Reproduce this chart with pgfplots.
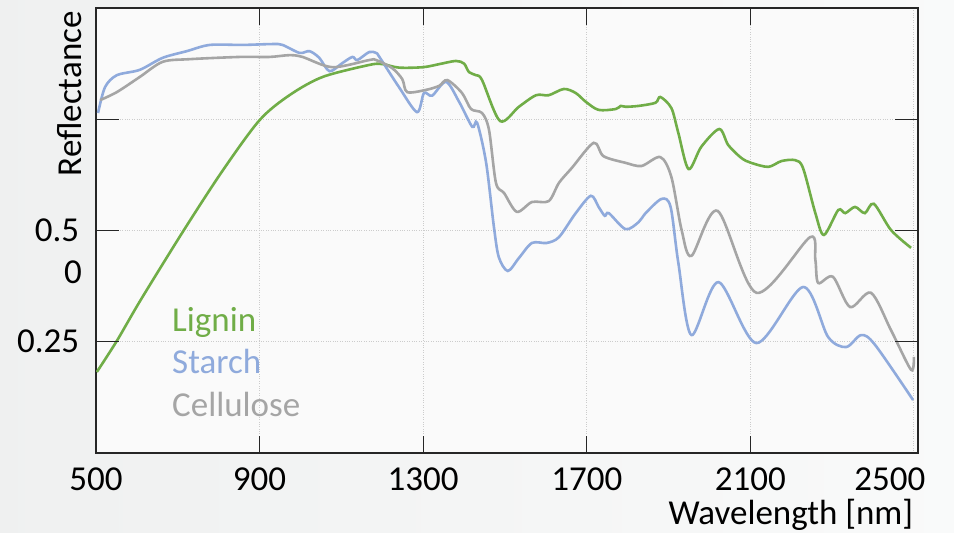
\documentclass[border=0pt]{standalone}
\usepackage{pgfplots}
\pgfplotsset{compat=1.18}
\usepackage{fontspec}
\setmainfont{Carlito}
\definecolor{lig}{HTML}{70AD47}
\definecolor{sta}{HTML}{8FAADC}
\definecolor{cel}{HTML}{A5A5A5}
\definecolor{bgc}{HTML}{F0F2F2}
\definecolor{plotbg}{HTML}{FAFAFA}
\begin{document}
\fontsize{35bp}{41bp}\selectfont
\begin{tikzpicture}
\fill[left color=bgc!90!gray!60, right color=bgc!40!white] (0,0) rectangle (954bp,533bp);
\useasboundingbox (0,0) rectangle (954bp,533bp);
\begin{axis}[
  at={(96bp,80bp)}, anchor=south west,
  scale only axis, width=822bp, height=445bp,
  xmin=500, xmax=2510, ymin=0, ymax=1,
  clip mode=individual,
  axis background/.style={fill=plotbg},
  axis line style={black!85, line width=1.3bp},
  xtick={500,900,1300,1700,2100,2500},
  xticklabels={500,900,1300,1700,2100,{2500\kern48bp}},
  ytick={0.25,0.5,0.75},
  yticklabels={0.25,0.5,{}},
  tick align=inside,
  major tick length=0bp,
  grid=major,
  major grid style={black!20, dotted, line width=1bp},
  /pgf/number format/assume math mode=true,
  xticklabel style={font=\fontsize{35bp}{41bp}\selectfont, yshift=-3bp},
  yticklabel style={font=\fontsize{35bp}{41bp}\selectfont, xshift=-5bp},
  xlabel={Wavelength [nm]},
  xlabel style={at={(axis description cs:1.0085,-0.160)}, anchor=base east, font=\fontsize{35bp}{41bp}\selectfont},
  ylabel={Reflectance},
  ylabel style={at={(axis description cs:-0.032,0.807)}, anchor=center, font=\fontsize{35bp}{41bp}\selectfont},
  every axis plot/.append style={line width=2.6bp, smooth, tension=0.5, no marks},
]
% Lignin
\addplot[lig] coordinates {
(502,0.182)(551,0.252)(610,0.345)(715,0.501)(810,0.635)(900,0.748)(973,0.804)(1054,0.845)(1168,0.872)
(1200,0.874)(1241,0.866)(1300,0.867)(1340,0.874)(1380,0.881)(1400,0.875)(1412,0.856)(1429,0.849)
(1444,0.838)(1488,0.746)(1534,0.778)(1576,0.804)(1607,0.804)(1644,0.818)(1673,0.809)(1698,0.789)
(1729,0.771)(1771,0.773)(1783,0.780)(1795,0.778)(1827,0.780)(1868,0.787)(1880,0.800)(1907,0.775)
(1924,0.719)(1949,0.638)(1980,0.688)(2024,0.728)(2046,0.692)(2078,0.663)(2102,0.652)(2144,0.643)
(2176,0.656)(2210,0.658)(2229,0.640)(2259,0.539)(2280,0.490)(2315,0.546)(2332,0.539)(2356,0.553)
(2380,0.539)(2402,0.560)(2444,0.501)(2493,0.461)
};
% Starch
\addplot[sta] coordinates {
(505,0.764)(522,0.822)(551,0.849)(607,0.861)(663,0.888)(722,0.903)(778,0.917)(859,0.917)(932,0.919)
(956,0.917)(998,0.899)(1022,0.903)(1046,0.888)(1071,0.858)(1102,0.876)(1127,0.890)(1139,0.883)
(1168,0.901)(1185,0.899)(1193,0.890)(1241,0.822)(1285,0.766)(1302,0.809)(1322,0.803)(1356,0.834)
(1388,0.789)(1420,0.733)(1432,0.742)(1454,0.652)(1473,0.508)(1485,0.440)(1507,0.409)(1534,0.438)
(1566,0.472)(1602,0.472)(1632,0.485)(1673,0.539)(1710,0.578)(1729,0.553)(1744,0.533)(1754,0.539)
(1795,0.503)(1827,0.519)(1844,0.539)(1883,0.571)(1905,0.553)(1924,0.427)(1956,0.265)(2022,0.384)
(2115,0.247)(2229,0.373)(2290,0.261)(2334,0.238)(2371,0.265)(2405,0.243)(2498,0.119)
};
% Cellulose
\addplot[cel] coordinates {
(510,0.793)(551,0.811)(607,0.845)(663,0.879)(729,0.885)(851,0.890)(924,0.890)(973,0.894)(1005,0.890)
(1078,0.867)(1168,0.883)(1185,0.883)(1224,0.865)(1249,0.840)(1261,0.811)(1307,0.816)(1339,0.825)
(1359,0.838)(1395,0.809)(1417,0.773)(1444,0.764)(1461,0.726)(1478,0.607)(1498,0.584)(1529,0.542)
(1566,0.564)(1607,0.566)(1632,0.607)(1663,0.640)(1717,0.697)(1741,0.667)(1795,0.652)(1834,0.645)
(1880,0.665)(1907,0.620)(1932,0.501)(1956,0.443)(2020,0.544)(2115,0.360)(2246,0.485)(2259,0.434)
(2266,0.382)(2302,0.396)(2344,0.328)(2395,0.360)(2444,0.276)(2493,0.187)(2500,0.216)
};
\node[anchor=base west, text=lig, inner sep=0pt] at (rel axis cs:0.0925,0.274) {Lignin};
\node[anchor=base west, text=sta, inner sep=0pt] at (rel axis cs:0.0925,0.178) {Starch};
\node[anchor=base west, text=cel, inner sep=0pt] at (rel axis cs:0.0925,0.081) {Cellulose};
\node[anchor=east, inner sep=0pt, xshift=-14bp] at (rel axis cs:0,0.407) {0};
\end{axis}
% tick marks, drawn on top of the axis box
\draw[black!85, line width=1.3bp]
  (259.58bp,80bp) -- (259.58bp,97bp)
  (423.16bp,80bp) -- (423.16bp,97bp)
  (586.75bp,80bp) -- (586.75bp,97bp)
  (750.33bp,80bp) -- (750.33bp,97bp)
  (259.58bp,525bp) -- (259.58bp,508bp)
  (423.16bp,525bp) -- (423.16bp,508bp)
  (586.75bp,525bp) -- (586.75bp,508bp)
  (750.33bp,525bp) -- (750.33bp,508bp)
  (96bp,191.25bp) -- (119bp,191.25bp)
  (96bp,302.5bp) -- (119bp,302.5bp)
  (96bp,413.75bp) -- (119bp,413.75bp)
  (918bp,191.25bp) -- (895bp,191.25bp)
  (918bp,302.5bp) -- (895bp,302.5bp)
  (918bp,413.75bp) -- (895bp,413.75bp);
\end{tikzpicture}
\end{document}
